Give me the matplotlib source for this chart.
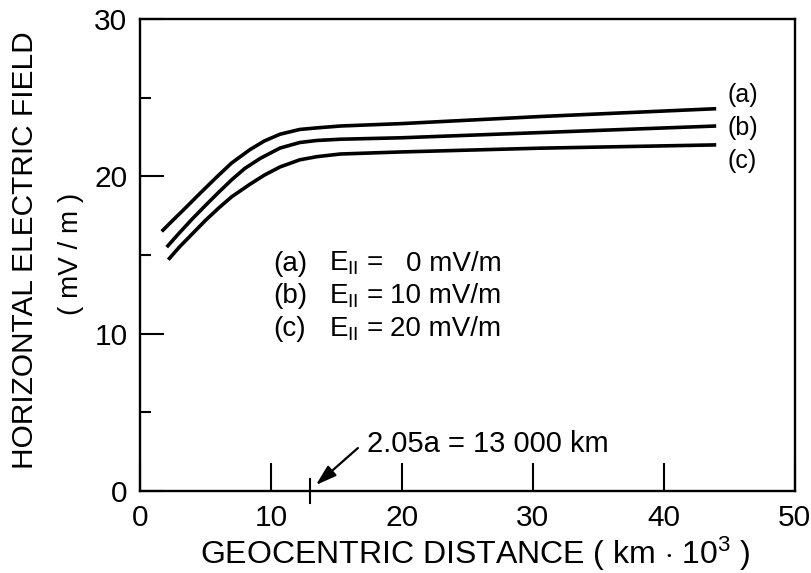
import matplotlib
matplotlib.use("Agg")
import matplotlib.pyplot as plt

# values
dist_a = [1.66, 2.5, 3.3, 4.5, 5.85, 7.0, 8.4, 9.5, 10.7, 12.2, 13.5, 15.3, 19.9, 30.5, 44.0]
field_a = [16.5, 17.2, 17.85, 18.85, 19.95, 20.85, 21.7, 22.25, 22.68, 22.98, 23.08, 23.2, 23.35, 23.8, 24.3]

dist_b = [2.04, 3.0, 4.0, 5.0, 6.0, 7.0, 8.0, 9.2, 10.7, 12.2, 13.5, 15.3, 19.9, 30.5, 44.0]
field_b = [15.5, 16.4, 17.3, 18.15, 18.98, 19.78, 20.5, 21.15, 21.8, 22.15, 22.28, 22.36, 22.45, 22.78, 23.2]

dist_c = [2.16, 3.0, 4.0, 5.0, 6.0, 7.0, 8.4, 9.5, 10.7, 12.2, 13.5, 15.3, 19.9, 30.5, 44.0]
field_c = [14.7, 15.5, 16.35, 17.2, 17.98, 18.7, 19.5, 20.08, 20.6, 21.05, 21.25, 21.42, 21.55, 21.79, 22.0]

curve_names = ["(a)", "(b)", "(c)"]
e_par_values = ["0", "10", "20"]
marker_dist = 13.0  # 2.05a = 13 000 km

plt.rcParams["font.family"] = ["Liberation Sans", "DejaVu Sans"]
plt.rcParams["mathtext.fontset"] = "custom"
plt.rcParams["mathtext.rm"] = "Liberation Sans"
plt.rcParams["mathtext.it"] = "Liberation Sans"

fig = plt.figure(figsize=(8.11, 5.73), dpi=100)
ax = fig.add_axes([0.1726, 0.1431, 0.8074, 0.8237])

for xs, ys in [(dist_a, field_a), (dist_b, field_b), (dist_c, field_c)]:
    ax.plot(xs, ys, color="black", lw=2.6, solid_capstyle="butt", solid_joinstyle="round")

ax.set_xlim(0, 50)
ax.set_ylim(0, 30)
ax.set_xticks([0, 10, 20, 30, 40, 50])
ax.set_yticks([0, 10, 20, 30])
ax.set_yticks([5, 15, 25], minor=True)
ax.tick_params(axis="x", which="major", direction="in", length=20, width=1.5,
               labelsize=21.5, pad=9, top=False)
ax.tick_params(axis="y", which="major", direction="in", length=17, width=1.5,
               labelsize=21.5, pad=9, right=False)
ax.tick_params(axis="y", which="minor", direction="in", length=8, width=1.5, right=False)
for sp in ax.spines.values():
    sp.set_linewidth(1.7)

ax.set_xlabel("GEOCENTRIC DISTANCE ( km $\\cdot$ 10$^3$ )", fontsize=23)
ax.xaxis.set_label_coords(0.512, -0.092)
fig.text(0.031, 0.564, "HORIZONTAL ELECTRIC FIELD", rotation=90, fontsize=21.5,
         ha="center", va="center")
fig.text(0.087, 0.557, "( mV / m )", rotation=90, fontsize=20,
         ha="center", va="center")

# curve labels at the right end
for name, yy in zip(curve_names, [25.2, 23.1, 21.0]):
    ax.text(46.0, yy, name, fontsize=18, ha="center", va="center")

# legend block
for i, (name, val) in enumerate(zip(curve_names, e_par_values)):
    yy = 14.45 - 2.07 * i
    ax.text(10.15, yy, name, fontsize=20, ha="left", va="center")
    ax.text(14.45, yy, "E$_{\\mathrm{II}}$ =", fontsize=20, ha="left", va="center")
    ax.text(27.6, yy, val + " mV/m", fontsize=20, ha="right", va="center")

# marker at 13 000 km
ax.plot([marker_dist, marker_dist], [-0.75, 0.75], color="black", lw=1.5, clip_on=False)
ax.annotate("", xy=(marker_dist + 0.43, 0.38), xytext=(16.64, 2.73),
            arrowprops=dict(arrowstyle="-|>,head_length=0.7,head_width=0.22",
                            color="black", lw=1.6, mutation_scale=18,
                            shrinkA=0, shrinkB=0))
ax.text(17.33, 3.0, "2.05a = 13 000 km", fontsize=21, ha="left", va="center")

fig.savefig("out.png", dpi=100)
